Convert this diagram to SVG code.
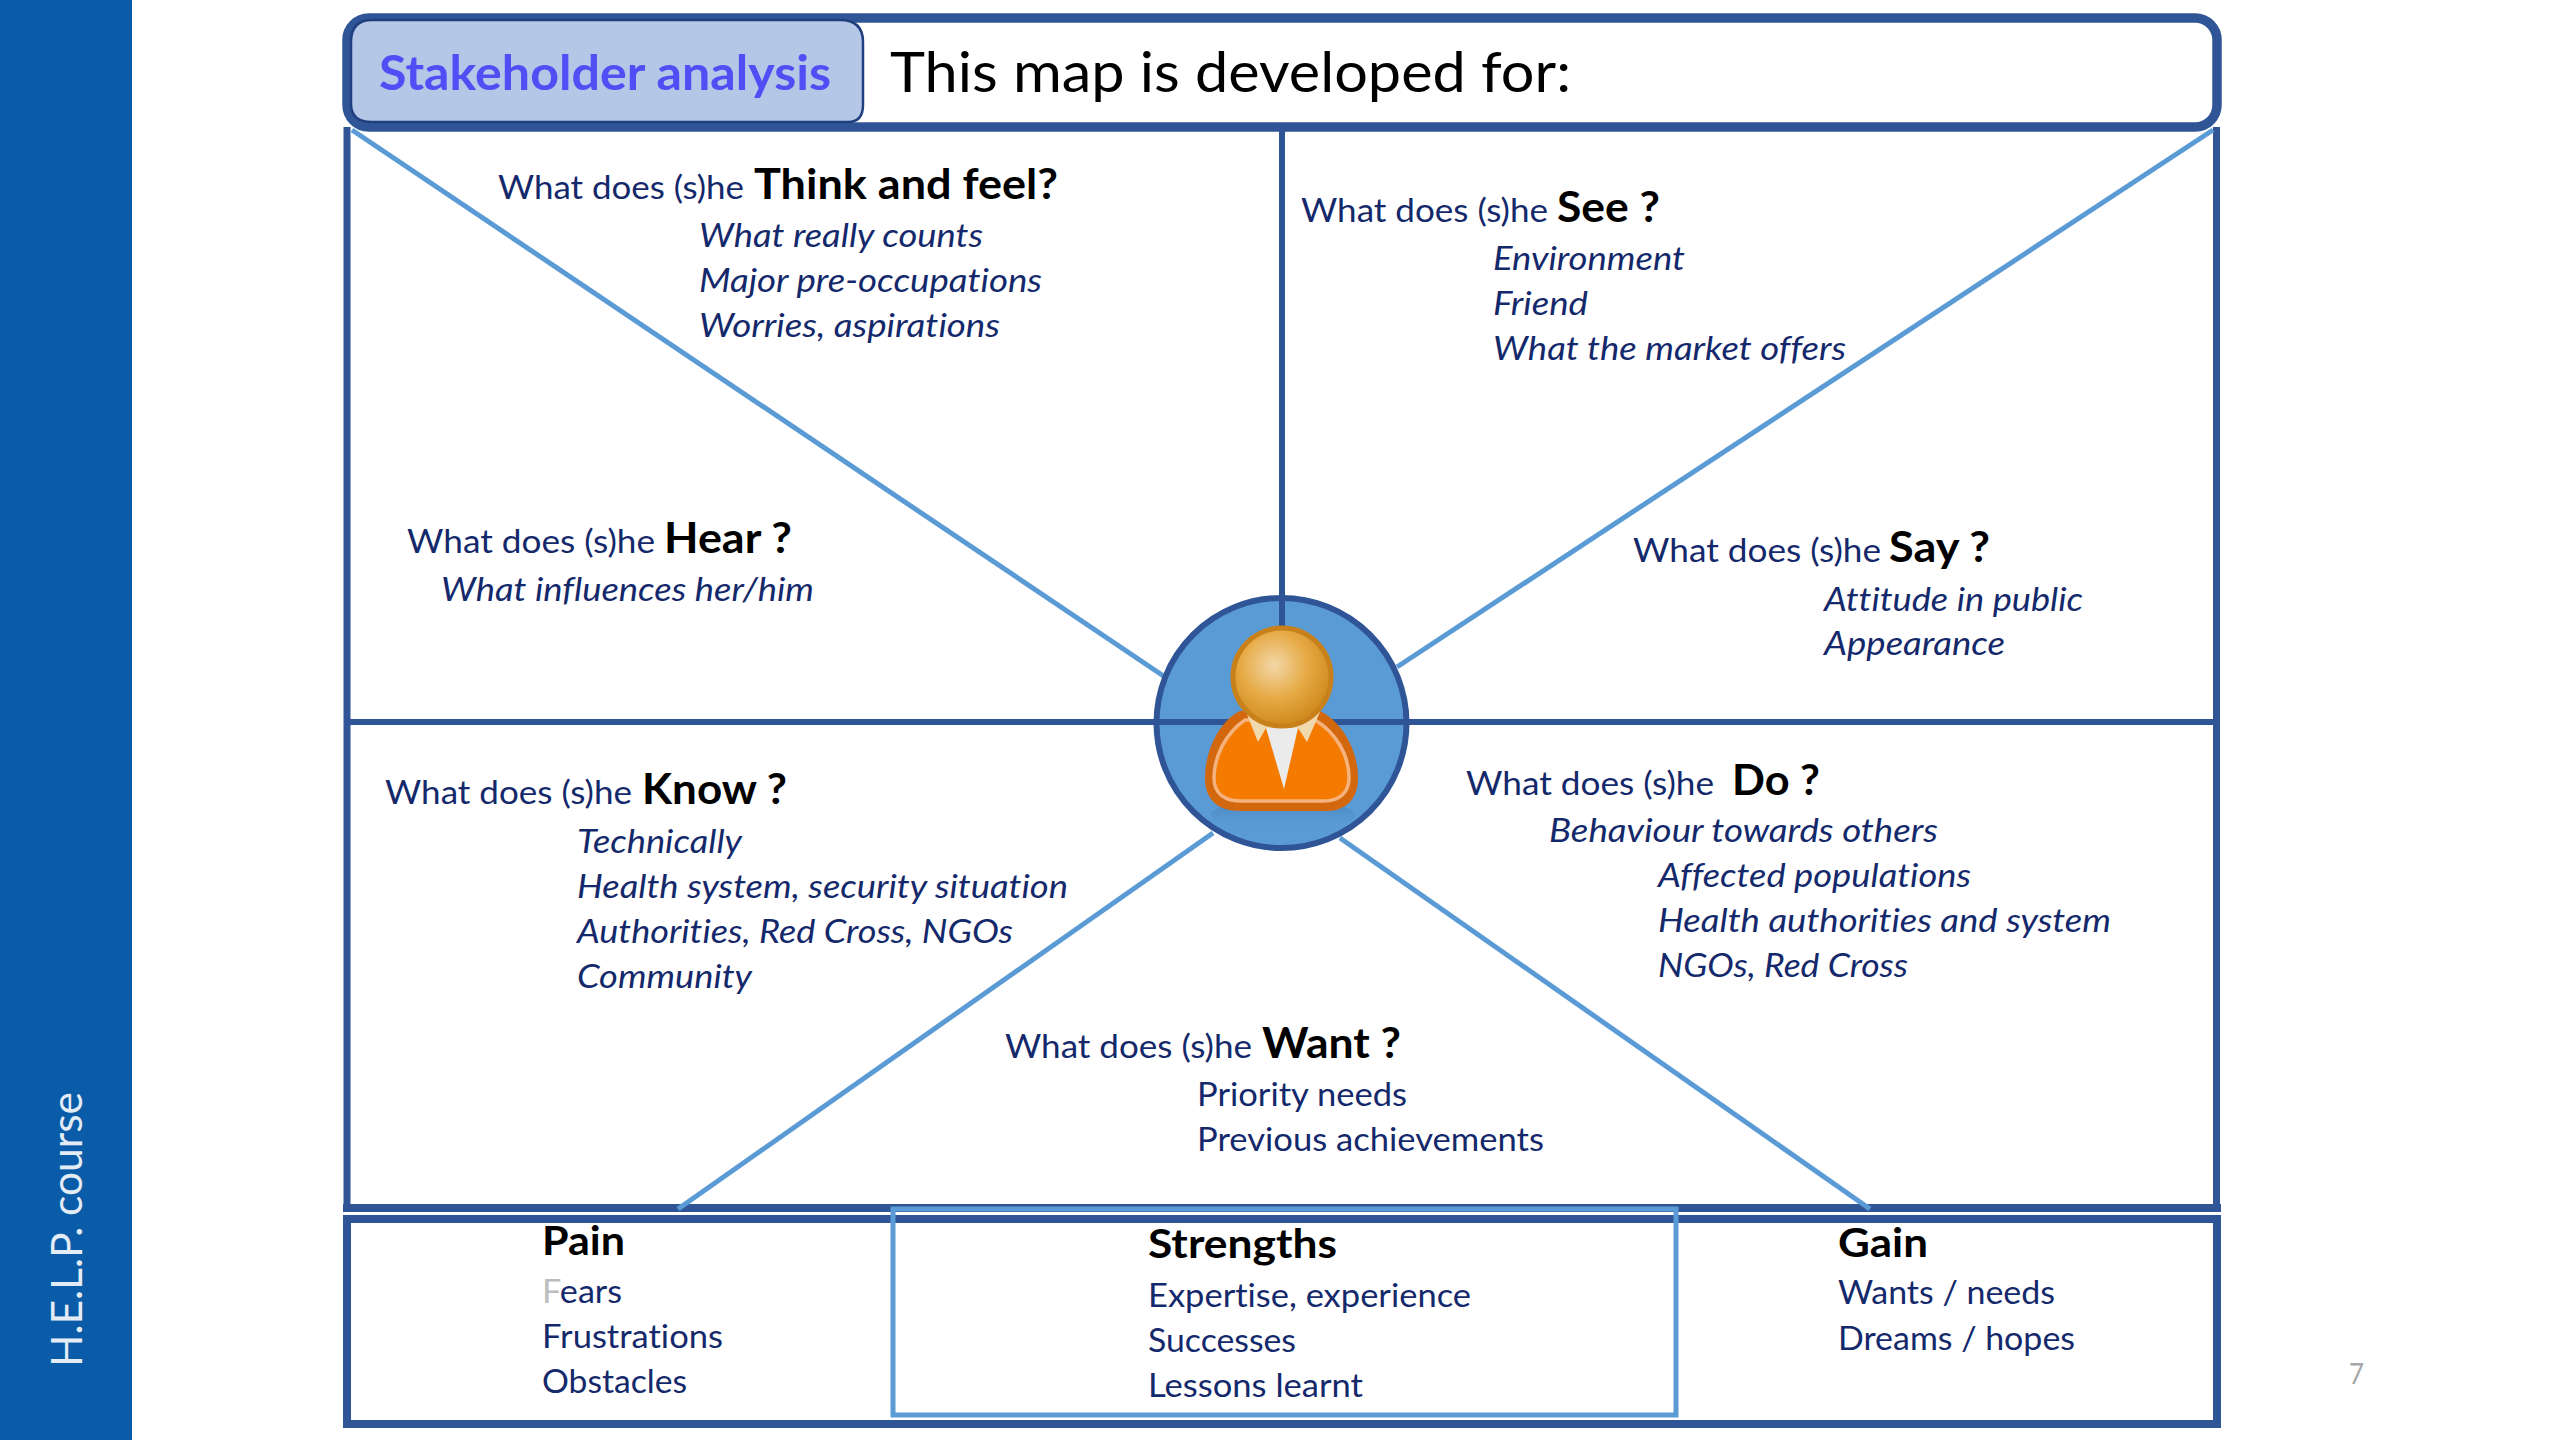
<svg xmlns="http://www.w3.org/2000/svg" width="2560" height="1440" viewBox="0 0 2560 1440">
<defs>
<radialGradient id="headGrad" cx="0.42" cy="0.38" r="0.62"><stop offset="0" stop-color="#f3d7a8"/><stop offset="0.55" stop-color="#e6aa45"/><stop offset="1" stop-color="#cf8a1e"/></radialGradient>
<linearGradient id="shadowGrad" x1="0" y1="0" x2="0" y2="1"><stop offset="0" stop-color="#3a77b0" stop-opacity="0.75"/><stop offset="1" stop-color="#5b9bd5" stop-opacity="0"/></linearGradient>
<style>
text{font-family:"Lato","Liberation Sans",sans-serif;font-variant-ligatures:none;}
.q{font-size:33px;fill:#14296b;}
.b{font-size:42px;font-weight:700;fill:#000;}
.i{font-size:33px;font-style:italic;fill:#14296b;}
.n{font-size:33px;fill:#14296b;}
.h{font-size:40px;font-weight:700;fill:#000;}
.dark{fill:none;stroke:#2f5597;stroke-width:7;}
.inner{fill:none;stroke:#2f5597;stroke-width:6;}
.light{fill:none;stroke:#5b9bd5;stroke-width:5;}
</style>
</defs>
<rect width="2560" height="1440" fill="#fff"/>
<g id="sidebar">
<rect x="0" y="0" width="132" height="1440" fill="#0a5ca8"/>
<text transform="translate(82 1367) rotate(-90)" font-size="42" fill="#e4ecf6" textLength="275" lengthAdjust="spacingAndGlyphs">H.E.L.P. course</text>
</g>
<g id="bottom-panel">
<rect x="347" y="1219" width="1870" height="205" fill="#fff" stroke="#2f5597" stroke-width="8"/>
<line x1="343" y1="1208" x2="2221" y2="1208" stroke="#2f5597" stroke-width="8"/>
</g>
<g id="connectors">
<line class="dark" x1="347" y1="127" x2="347" y2="1208"/>
<line class="dark" x1="2216.500" y1="127" x2="2216.500" y2="1208"/>
<line class="inner" x1="1282" y1="127" x2="1282" y2="600"/>
<line class="inner" x1="347" y1="722" x2="1160" y2="722"/>
<line class="inner" x1="1404" y1="722" x2="2216" y2="722"/>
<line class="light" x1="352" y1="130" x2="1165" y2="677"/>
<line class="light" x1="2213" y1="130" x2="1397" y2="667"/>
<line class="light" x1="1213" y1="833" x2="678" y2="1209"/>
<line class="light" x1="1340" y1="838" x2="1870" y2="1209"/>
</g>
<g id="header">
<rect x="347" y="18" width="1870" height="109" rx="22" fill="#fff" stroke="#2f5597" stroke-width="9.500"/>
<path d="M351 42Q351 20 372 20H840Q863 20 863 42V105Q863 122 848 122H372Q351 122 351 104Z" fill="#b4c7e7" stroke="#1f3f7f" stroke-width="2.500"/>
<text x="379" y="90" font-size="47" font-weight="700" fill="#4f4ff5" textLength="452" lengthAdjust="spacingAndGlyphs">Stakeholder analysis</text>
<text x="890" y="92" font-size="56" fill="#000" textLength="681" lengthAdjust="spacingAndGlyphs">This map is developed for:</text>
</g>
<g id="think">
<text class="q" x="498" y="199" textLength="246" lengthAdjust="spacingAndGlyphs">What does (s)he</text>
<text class="b" x="754" y="199" textLength="304" lengthAdjust="spacingAndGlyphs">Think and feel?</text>
<text class="i" x="699" y="247" textLength="284" lengthAdjust="spacingAndGlyphs">What really counts</text>
<text class="i" x="699" y="292" textLength="343" lengthAdjust="spacingAndGlyphs">Major pre-occupations</text>
<text class="i" x="699" y="337" textLength="301" lengthAdjust="spacingAndGlyphs">Worries, aspirations</text>
</g>
<g id="see">
<text class="q" x="1301" y="222" textLength="247" lengthAdjust="spacingAndGlyphs">What does (s)he</text>
<text class="b" x="1557" y="222" textLength="103" lengthAdjust="spacingAndGlyphs">See ?</text>
<text class="i" x="1493" y="270" textLength="192" lengthAdjust="spacingAndGlyphs">Environment</text>
<text class="i" x="1493" y="315" textLength="95" lengthAdjust="spacingAndGlyphs">Friend</text>
<text class="i" x="1493" y="360" textLength="353" lengthAdjust="spacingAndGlyphs">What the market offers</text>
</g>
<g id="hear">
<text class="q" x="407" y="553" textLength="248" lengthAdjust="spacingAndGlyphs">What does (s)he</text>
<text class="b" x="664" y="553" textLength="128" lengthAdjust="spacingAndGlyphs">Hear ?</text>
<text class="i" x="441" y="601" textLength="373" lengthAdjust="spacingAndGlyphs">What influences her/him</text>
</g>
<g id="say">
<text class="q" x="1633" y="562" textLength="248" lengthAdjust="spacingAndGlyphs">What does (s)he</text>
<text class="b" x="1889" y="562" textLength="101" lengthAdjust="spacingAndGlyphs">Say ?</text>
<text class="i" x="1824" y="611" textLength="259" lengthAdjust="spacingAndGlyphs">Attitude in public</text>
<text class="i" x="1824" y="655" textLength="181" lengthAdjust="spacingAndGlyphs">Appearance</text>
</g>
<g id="know">
<text class="q" x="385" y="804" textLength="247" lengthAdjust="spacingAndGlyphs">What does (s)he</text>
<text class="b" x="642" y="804" textLength="145" lengthAdjust="spacingAndGlyphs">Know ?</text>
<text class="i" x="577" y="853" textLength="165" lengthAdjust="spacingAndGlyphs">Technically</text>
<text class="i" x="577" y="898" textLength="491" lengthAdjust="spacingAndGlyphs">Health system, security situation</text>
<text class="i" x="577" y="943" textLength="436" lengthAdjust="spacingAndGlyphs">Authorities, Red Cross, NGOs</text>
<text class="i" x="577" y="988" textLength="175" lengthAdjust="spacingAndGlyphs">Community</text>
</g>
<g id="do">
<text class="q" x="1466" y="795" textLength="248" lengthAdjust="spacingAndGlyphs">What does (s)he</text>
<text class="b" x="1732" y="795" textLength="88" lengthAdjust="spacingAndGlyphs">Do ?</text>
<text class="i" x="1549" y="842" textLength="389" lengthAdjust="spacingAndGlyphs">Behaviour towards others</text>
<text class="i" x="1658" y="887" textLength="313" lengthAdjust="spacingAndGlyphs">Affected populations</text>
<text class="i" x="1658" y="932" textLength="453" lengthAdjust="spacingAndGlyphs">Health authorities and system</text>
<text class="i" x="1658" y="977" textLength="250" lengthAdjust="spacingAndGlyphs">NGOs, Red Cross</text>
</g>
<g id="want">
<text class="q" x="1005" y="1058" textLength="247" lengthAdjust="spacingAndGlyphs">What does (s)he</text>
<text class="b" x="1262" y="1058" textLength="139" lengthAdjust="spacingAndGlyphs">Want ?</text>
<text class="n" x="1197" y="1106" textLength="210" lengthAdjust="spacingAndGlyphs">Priority needs</text>
<text class="n" x="1197" y="1151" textLength="347" lengthAdjust="spacingAndGlyphs">Previous achievements</text>
</g>
<g id="center-figure">
<circle cx="1281.500" cy="723" r="125" fill="#5b9bd5" stroke="#2f5597" stroke-width="6"/>
<line class="inner" x1="1282" y1="600" x2="1282" y2="640"/>
<line class="inner" x1="1158" y1="722" x2="1406" y2="722"/>
<ellipse cx="1283" cy="815" rx="72" ry="16" fill="url(#shadowGrad)"/>
<path d="M1240 711C1218 722 1205 752 1205 778C1205 800 1218 811 1240 811H1326C1347 811 1358 798 1358 778C1358 750 1342 722 1320 711Z" fill="#d2670e"/>
<path d="M1245 720C1226 733 1214 756 1214 778C1214 794 1225 801 1242 801H1324C1340 801 1349 792 1349 778C1349 754 1335 732 1315 720Z" fill="#f47a00" stroke="#f5b27c" stroke-width="3.500"/>
<path d="M1246 712L1258 742L1266 728H1298L1307 742L1320 712L1282 700Z" fill="#f1d9ae"/>
<path d="M1266 728H1298L1284 789Z" fill="#ebebeb"/>
<circle cx="1282" cy="677" r="49" fill="url(#headGrad)" stroke="#c8811a" stroke-width="5"/>
</g>
<g id="pain">
<text class="h" x="542" y="1255" textLength="83" lengthAdjust="spacingAndGlyphs">Pain</text>
<text class="n" x="542" y="1303" textLength="80" lengthAdjust="spacingAndGlyphs"><tspan fill="#bdbdbd">F</tspan>ears</text>
<text class="n" x="542" y="1348" textLength="181" lengthAdjust="spacingAndGlyphs">Frustrations</text>
<text class="n" x="542" y="1393" textLength="145" lengthAdjust="spacingAndGlyphs">Obstacles</text>
</g>
<g id="strengths">
<rect class="light" x="893" y="1209" width="783" height="206"/>
<text class="h" x="1148" y="1258" textLength="189" lengthAdjust="spacingAndGlyphs">Strengths</text>
<text class="n" x="1148" y="1307" textLength="323" lengthAdjust="spacingAndGlyphs">Expertise, experience</text>
<text class="n" x="1148" y="1352" textLength="148" lengthAdjust="spacingAndGlyphs">Successes</text>
<text class="n" x="1148" y="1397" textLength="215" lengthAdjust="spacingAndGlyphs">Lessons learnt</text>
</g>
<g id="gain">
<text class="h" x="1838" y="1257" textLength="90" lengthAdjust="spacingAndGlyphs">Gain</text>
<text class="n" x="1838" y="1304" textLength="217" lengthAdjust="spacingAndGlyphs">Wants / needs</text>
<text class="n" x="1838" y="1350" textLength="237" lengthAdjust="spacingAndGlyphs">Dreams / hopes</text>
</g>
<text id="page-number" x="2349" y="1384" font-size="28" fill="#a6a6a6" textLength="15" lengthAdjust="spacingAndGlyphs">7</text>
</svg>
